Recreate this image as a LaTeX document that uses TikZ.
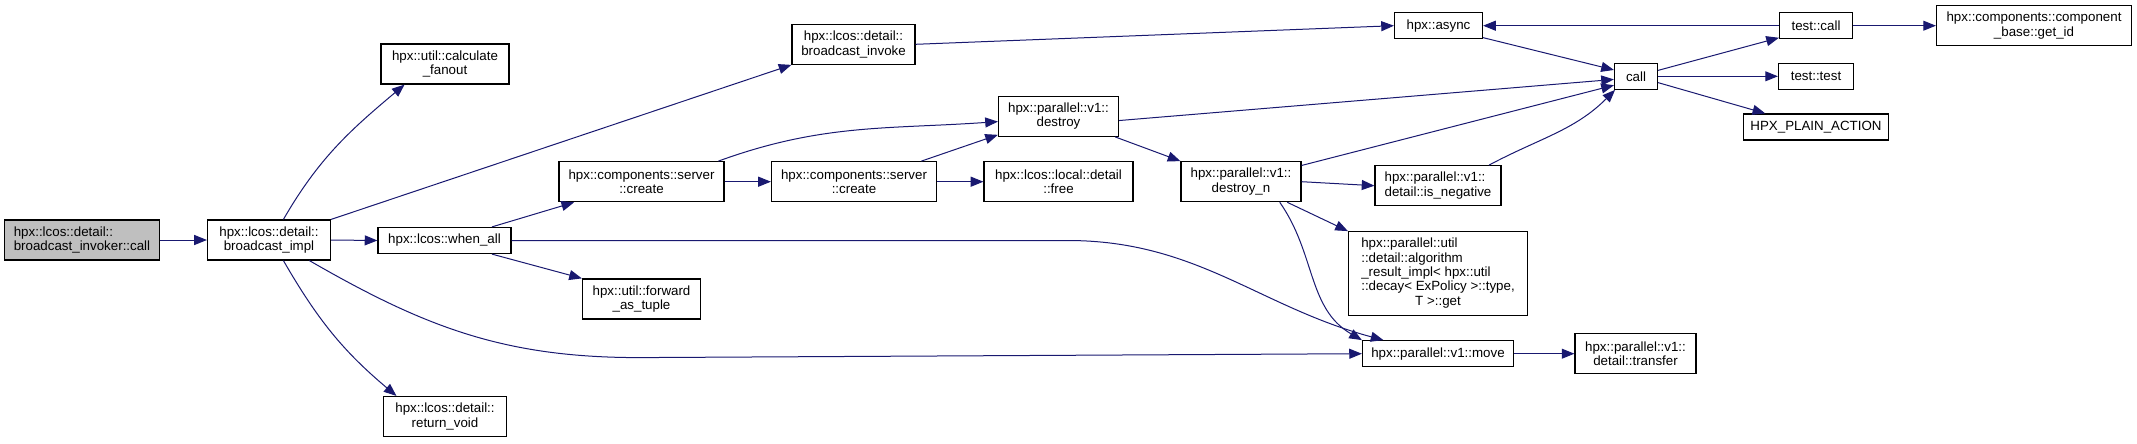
\documentclass[tikz,border=0pt]{standalone}
\usepackage{fontspec}
\setmainfont{Liberation Sans}
\usepackage{tikz}
\usetikzlibrary{arrows.meta}
\definecolor{edgeblue}{HTML}{191970}
\definecolor{rootgray}{HTML}{BFBFBF}

\begin{document}
\begin{tikzpicture}[x=0.75pt,y=-0.75pt,
  func/.style={rectangle,draw=black,line width=0.9pt,fill=white,inner sep=0pt,
               font=\fontsize{10}{10.8}\selectfont,align=center},
  dims/.style 2 args={minimum width=#1*0.75pt,minimum height=#2*0.75pt},
  arrow/.style={edgeblue,line width=0.75pt,-{Triangle[length=9.5pt,width=7.5pt]}}]

\useasboundingbox (0,0) rectangle (2137,443);

%% ---------- caller and broadcast level ----------
\node[func,dims={155}{40},fill=rootgray,align=left](Inv) at (82,240)
  {hpx::lcos::detail::\\broadcast\_invoker::call};
\node[func,dims={123}{40}](Impl) at (269,240){hpx::lcos::detail::\\broadcast\_impl};
\node[func,dims={128}{40}](Fan) at (445,64){hpx::util::calculate\\\_fanout};
\node[func,dims={123}{40}](BInv) at (853.5,44.3){hpx::lcos::detail::\\broadcast\_invoke};
\node[func,dims={133}{26}](WAll) at (444.5,240.5){hpx::lcos::when\_all};
\node[func,dims={118}{40}](Tuple) at (641.5,299){hpx::util::forward\\\_as\_tuple};
\node[func,dims={123}{40}](Void) at (445,416.5){hpx::lcos::detail::\\return\_void};

%% ---------- create / destroy ----------
\node[func,dims={165}{40}](Cre1) at (641.5,181.7){hpx::components::server\\::create};
\node[func,dims={165}{40}](Cre2) at (854,181.7){hpx::components::server\\::create};
\node[func,dims={149}{40}](Free) at (1058.5,181.7){hpx::lcos::local::detail\\::free};
\node[func,dims={120}{40}](Des) at (1058.5,116.3){hpx::parallel::v1::\\destroy};
\node[func,dims={120}{40}](DesN) at (1241,181.7){hpx::parallel::v1::\\destroy\_n};

%% ---------- right part ----------
\node[func,dims={88}{26}](Async) at (1438.5,25.7){hpx::async};
\node[func,dims={126}{40},align=left](Neg) at (1438,185.7){hpx::parallel::v1::\\detail::is\_negative};
\node[func,dims={179}{84}](Get) at (1438,273.7){\begin{tabular}{@{}l@{}}
  hpx::parallel::util\\::detail::algorithm\\\_result\_impl< hpx::util\\
  ::decay< ExPolicy >::type,\\\multicolumn{1}{@{}c@{}}{T >::get}\end{tabular}};
\node[func,dims={151}{26}](Move) at (1438,353.7){hpx::parallel::v1::move};
\node[func,dims={121}{40}](Trans) at (1635.5,353.7){hpx::parallel::v1::\\detail::transfer};
\node[func,dims={43}{26}](Call) at (1636,76.3){call};
\node[func,dims={73}{26}](TCall) at (1816,25.7){test::call};
\node[func,dims={75}{26}](TTest) at (1816,76.3){test::test};
\node[func,dims={145}{26}](Plain) at (1816,127){HPX\_PLAIN\_ACTION};
\node[func,dims={195}{40}](GetId) at (2034,25.7){hpx::components::component\\\_base::get\_id};

% Calls from the broadcast level
\draw[arrow](Inv.east)--(Impl.west);
\draw[arrow](Impl.55) to[out=60,in=220] (Fan.207);
\draw[arrow](Impl.north east)--(BInv.south west);
\draw[arrow](Impl.east)--(WAll.west);
\draw[arrow](Impl.-55) to[out=-60,in=140] (Void.157);
\draw[arrow](Impl.-27) to[out=-30,in=180] ++(330,97) -- (Move.west);
\draw[arrow](WAll.16)--(Cre1.197);
\draw[arrow](WAll.-16)--(Tuple.north west);
\draw[arrow](WAll.east) -- ++(556,0) to[out=0,in=165] (Move.166);

% Create / destroy chain
\draw[arrow](Cre1.15) to[out=20,in=184] (Des.185);
\draw[arrow](Cre1.east)--(Cre2.west);
\draw[arrow](Cre2.17)--(Des.197);
\draw[arrow](Cre2.east)--(Free.west);
\draw[arrow](Des.-4)--(Call.188);
\draw[arrow](Des.-20)--(DesN.north west);
\draw[arrow](DesN.15)--(Call.202);
\draw[arrow](DesN.east)--(Neg.west);
\draw[arrow](DesN.-24)--(Get.north west);
\draw[arrow](DesN.-28) to[out=-55,in=150] (Move.north west);
\draw[arrow](Neg.22) to[out=28,in=225] (Call.213);

% Right part
\draw[arrow](BInv.east)--(Async.west);
\draw[arrow](TCall.west)--(Async.east);
\draw[arrow](Async.-15)--(Call.164);
\draw[arrow](Call.15)--(TCall.198);
\draw[arrow](Call.east)--(TTest.west);
\draw[arrow](Call.-16)--(Plain.165);
\draw[arrow](TCall.east)--(GetId.west);
\draw[arrow](Move.east)--(Trans.west);

\end{tikzpicture}
\end{document}
